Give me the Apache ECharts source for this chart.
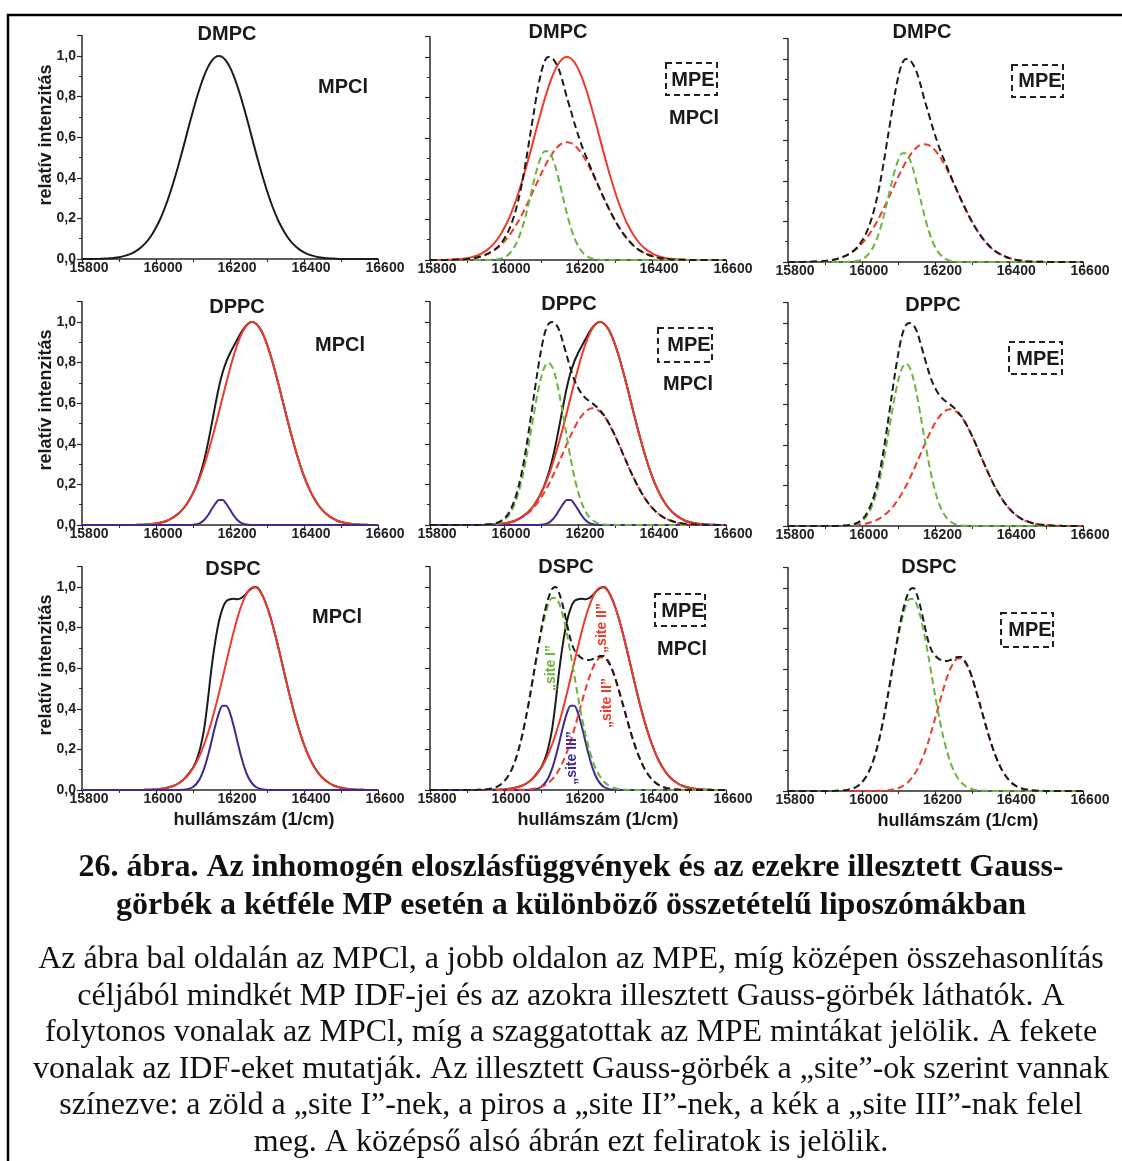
<!DOCTYPE html>
<html>
<head>
<meta charset="utf-8">
<script src="https://cdn.jsdelivr.net/npm/echarts@6/dist/echarts.min.js"></script>
<style>
html,body{margin:0;padding:0;background:#fff;}
#chart{width:1122px;height:1161px;}
</style>
</head>
<body>
<div id="chart"></div>
<script>
// wavenumber grid (1/cm)
const xs = [15800,15810,15820,15830,15840,15850,15860,15870,15880,15890,
15900,15910,15920,15930,15940,15950,15960,15970,15980,15990,
16000,16010,16020,16030,16040,16050,16060,16070,16080,16090,
16100,16110,16120,16130,16140,16150,16160,16170,16180,16190,
16200,16210,16220,16230,16240,16250,16260,16270,16280,16290,
16300,16310,16320,16330,16340,16350,16360,16370,16380,16390,
16400,16410,16420,16430,16440,16450,16460,16470,16480,16490,
16500,16510,16520,16530,16540,16550,16560,16570,16580,16590,
16600];

const xTicks = [15800, 16000, 16200, 16400, 16600];
const yTicks = [0, 0.2, 0.4, 0.6, 0.8, 1.0];

// DMPC – MPCl (IDF = single Gauss)
const dmpcMPCl = [0,0,0,0,0, 0.001,0.002,0.003,0.004,0.006,
0.009,0.013,0.018,0.024,0.033, 0.044,0.058,0.076,0.097,0.123,
0.155,0.191,0.234,0.282,0.336, 0.395,0.458,0.524,0.593,0.662,
0.729,0.793,0.851,0.902,0.944, 0.975,0.994,1.000,0.994,0.975,
0.944,0.902,0.851,0.793,0.729, 0.662,0.593,0.524,0.458,0.395,
0.336,0.282,0.234,0.191,0.155, 0.123,0.097,0.076,0.058,0.044,
0.033,0.024,0.018,0.013,0.009, 0.006,0.004,0.003,0.002,0.001,
0,0,0,0,0, 0,0,0,0,0,0];
// DMPC – MPE
const dmpcMPEsite1 = [0,0,0,0,0, 0,0,0,0,0, 0,0,0,0,0,
0,0,0.001,0.003,0.006, 0.013,0.024,0.042,0.070,0.110,
0.163,0.229,0.304,0.382,0.453, 0.507,0.536,0.536,0.507,0.453,
0.382,0.304,0.229,0.163,0.110, 0.070,0.042,0.024,0.013,0.006,
0.003,0.001,0,0,0,
0,0,0,0,0, 0,0,0,0,0, 0,0,0,0,0, 0,0,0,0,0, 0,0,0,0,0, 0,0,0,0,0,0];
const dmpcMPEsite2 = [0,0,0,0,0, 0.001,0.001,0.002,0.002,0.003,
0.005,0.008,0.010,0.014,0.019, 0.026,0.034,0.044,0.056,0.071,
0.090,0.111,0.136,0.164,0.195, 0.229,0.266,0.304,0.344,0.384,
0.423,0.460,0.494,0.523,0.548, 0.566,0.577,0.580,0.577,0.566,
0.548,0.523,0.494,0.460,0.423, 0.384,0.344,0.304,0.266,0.229,
0.195,0.164,0.136,0.111,0.090, 0.071,0.056,0.044,0.034,0.026,
0.019,0.014,0.010,0.008,0.005, 0.003,0.002,0.002,0.001,0.001,
0,0,0,0,0, 0,0,0,0,0,0];
const dmpcMPE = [0,0,0,0,0, 0.001,0.001,0.002,0.002,0.003,
0.005,0.008,0.010,0.014,0.019, 0.026,0.034,0.045,0.059,0.077,
0.103,0.135,0.178,0.234,0.305, 0.392,0.495,0.608,0.720,0.830,
0.920,0.980,1.000,0.995,0.970, 0.930,0.870,0.800,0.740,0.676,
0.618,0.565,0.518,0.473,0.429, 0.387,0.345,0.304,0.266,0.229,
0.195,0.164,0.136,0.111,0.090, 0.071,0.056,0.044,0.034,0.026,
0.019,0.014,0.010,0.008,0.005, 0.003,0.002,0.002,0.001,0.001,
0,0,0,0,0, 0,0,0,0,0,0];

// DPPC – MPCl
const dppcMPCl = [0,0,0,0,0, 0,0,0,0,0, 0,0,0,0,0,
0.001,0.001,0.002,0.003,0.005, 0.007,0.011,0.015,0.021,0.030,
0.041,0.055,0.073,0.095,0.123, 0.157,0.199,0.252,0.318,0.399,
0.492,0.588,0.679,0.751,0.805, 0.846,0.881,0.915,0.948,0.975,
0.994,1.000,0.993,0.971,0.937, 0.890,0.834,0.770,0.701,0.628,
0.556,0.484,0.416,0.352,0.293, 0.241,0.195,0.156,0.123,0.095,
0.073,0.055,0.041,0.030,0.021, 0.015,0.011,0.007,0.005,0.003,
0.002,0.001,0.001,0,0,0];
const dppcMPClsite2 = [0,0,0,0,0, 0,0,0,0,0, 0,0,0,0,0,
0.001,0.001,0.002,0.003,0.005, 0.007,0.011,0.015,0.021,0.030,
0.041,0.055,0.073,0.095,0.123, 0.156,0.195,0.241,0.293,0.352,
0.416,0.484,0.556,0.628,0.701, 0.770,0.834,0.890,0.937,0.971,
0.993,1.000,0.993,0.971,0.937, 0.890,0.834,0.770,0.701,0.628,
0.556,0.484,0.416,0.352,0.293, 0.241,0.195,0.156,0.123,0.095,
0.073,0.055,0.041,0.030,0.021, 0.015,0.011,0.007,0.005,0.003,
0.002,0.001,0.001,0,0,0];
const dppcMPClsite3 = [0,0,0,0,0, 0,0,0,0,0, 0,0,0,0,0, 0,0,0,0,0, 0,0,0,0,0, 0,0,0,0,0,
0.001,0.004,0.011,0.025,0.047, 0.076,0.104,0.123,0.123,0.104,
0.076,0.047,0.025,0.011,0.004, 0.001,0,0,0,0,
0,0,0,0,0, 0,0,0,0,0, 0,0,0,0,0, 0,0,0,0,0, 0,0,0,0,0, 0,0,0,0,0,0];
// DPPC – MPE
const dppcMPEsite1 = [0,0,0,0,0, 0,0,0,0,0, 0,0,0,0,0,
0.001,0.001,0.003,0.006,0.012, 0.023,0.040,0.068,0.108,0.165,
0.238,0.329,0.432,0.539,0.641, 0.725,0.780,0.800,0.780,0.725,
0.641,0.539,0.432,0.329,0.238, 0.165,0.108,0.068,0.040,0.023,
0.012,0.006,0.003,0.001,0.001,
0,0,0,0,0, 0,0,0,0,0, 0,0,0,0,0, 0,0,0,0,0, 0,0,0,0,0, 0,0,0,0,0,0];
const dppcMPEsite2 = [0,0,0,0,0, 0,0,0,0,0, 0,0,0,0,0.001,
0.001,0.002,0.003,0.004,0.006, 0.008,0.011,0.016,0.022,0.029,
0.039,0.052,0.067,0.086,0.108, 0.134,0.164,0.197,0.234,0.273,
0.315,0.357,0.400,0.440,0.477, 0.511,0.538,0.558,0.571,0.575,
0.571,0.558,0.538,0.511,0.477, 0.440,0.400,0.357,0.315,0.273,
0.234,0.197,0.164,0.134,0.108, 0.086,0.067,0.052,0.039,0.029,
0.022,0.016,0.011,0.008,0.006, 0.004,0.003,0.002,0.001,0.001,
0,0,0,0,0,0];
const dppcMPE = [0,0,0,0,0, 0,0,0,0,0, 0,0,0,0,0.001,
0.002,0.003,0.006,0.010,0.018, 0.031,0.051,0.084,0.130,0.194,
0.277,0.381,0.499,0.625,0.749, 0.859,0.944,0.990,1.000,0.990,
0.956,0.896,0.832,0.769,0.715, 0.676,0.646,0.626,0.611,0.598,
0.583,0.564,0.541,0.512,0.478, 0.440,0.400,0.357,0.315,0.273,
0.234,0.197,0.164,0.134,0.108, 0.086,0.067,0.052,0.039,0.029,
0.022,0.016,0.011,0.008,0.006, 0.004,0.003,0.002,0.001,0.001,
0,0,0,0,0,0];

// DSPC – MPCl
const dspcMPCl = [0,0,0,0,0, 0,0,0,0,0, 0,0,0,0,0, 0,0,
0.001,0.001,0.002, 0.003,0.005,0.007,0.011,0.016,
0.022,0.032,0.044,0.062,0.085, 0.110,0.150,0.210,0.300,0.440,
0.600,0.730,0.830,0.895,0.930, 0.940,0.942,0.940,0.945,0.960,
0.980,0.995,1.000,0.985,0.950, 0.904,0.847,0.780,0.707,0.630,
0.552,0.476,0.404,0.337,0.277, 0.224,0.178,0.139,0.107,0.081,
0.060,0.044,0.032,0.022,0.016, 0.011,0.007,0.005,0.003,0.002,
0.001,0.001,0,0,0,0];
const dspcMPClsite2 = [0,0,0,0,0, 0,0,0,0,0, 0,0,0,0,0, 0,0,
0.001,0.001,0.002, 0.003,0.005,0.007,0.011,0.016,
0.022,0.032,0.044,0.060,0.081, 0.107,0.139,0.178,0.224,0.277,
0.337,0.404,0.476,0.552,0.630, 0.707,0.780,0.847,0.904,0.950,
0.982,0.998,0.998,0.982,0.950, 0.904,0.847,0.780,0.707,0.630,
0.552,0.476,0.404,0.337,0.277, 0.224,0.178,0.139,0.107,0.081,
0.060,0.044,0.032,0.022,0.016, 0.011,0.007,0.005,0.003,0.002,
0.001,0.001,0,0,0,0];
const dspcMPClsite3 = [0,0,0,0,0, 0,0,0,0,0, 0,0,0,0,0, 0,0,0,0,0, 0,0,0,0,0, 0,0,
0.001,0.003,0.007, 0.015,0.032,0.060,0.105,0.166,
0.239,0.315,0.379,0.415,0.415, 0.379,0.315,0.239,0.166,0.105,
0.060,0.032,0.015,0.007,0.003, 0.001,
0,0,0,0, 0,0,0,0,0, 0,0,0,0,0, 0,0,0,0,0, 0,0,0,0,0, 0,0,0,0,0,0];
// DSPC – MPE
const dspcMPEsite1 = [0,0,0,0,0, 0,0,0,0,0, 0,0,0,0.001,0.001,
0.003,0.005,0.009,0.015,0.026, 0.042,0.065,0.098,0.143,0.202,
0.275,0.362,0.460,0.565,0.671, 0.770,0.853,0.914,0.946,0.946,
0.914,0.853,0.770,0.671,0.565, 0.460,0.362,0.275,0.202,0.143,
0.098,0.065,0.042,0.026,0.015, 0.009,0.005,0.003,0.001,0.001,
0,0,0,0,0, 0,0,0,0,0, 0,0,0,0,0, 0,0,0,0,0, 0,0,0,0,0,0];
const dspcMPEsite2 = [0,0,0,0,0, 0,0,0,0,0, 0,0,0,0,0, 0,0,0,0,0, 0,0,0,0,
0.001,0.001,0.002,0.003,0.006,0.009,
0.015,0.023,0.035,0.052,0.075, 0.104,0.142,0.187,0.240,0.300,
0.364,0.430,0.494,0.553,0.601, 0.635,0.653,0.653,0.635,0.601,
0.553,0.494,0.430,0.364,0.300, 0.240,0.187,0.142,0.104,0.075,
0.052,0.035,0.023,0.015,0.009, 0.006,0.003,0.002,0.001,0.001,
0,0,0,0,0, 0,0,0,0,0,0];
const dspcMPE = [0,0,0,0,0, 0,0,0,0,0, 0,0,0,0.001,0.001,
0.003,0.005,0.009,0.015,0.026, 0.042,0.065,0.098,0.143,0.203,
0.276,0.364,0.463,0.571,0.680, 0.785,0.876,0.945,0.990,1.000,
0.965,0.900,0.820,0.740,0.690, 0.665,0.650,0.642,0.640,0.645,
0.652,0.660,0.660,0.640,0.605, 0.555,0.494,0.430,0.364,0.300,
0.240,0.187,0.142,0.104,0.075, 0.052,0.035,0.023,0.015,0.009,
0.006,0.003,0.002,0.001,0.001,
0,0,0,0,0, 0,0,0,0,0,0];

const lipids = ['DMPC', 'DPPC', 'DSPC'];
const captionBold = ['26. ábra. Az inhomogén eloszlásfüggvények és az ezekre illesztett Gauss-',
  'görbék a kétféle MP esetén a különböző összetételű liposzómákban'];
const captionBody = ['Az ábra bal oldalán az MPCl, a jobb oldalon az MPE, míg középen összehasonlítás',
  'céljából mindkét MP IDF-jei és az azokra illesztett Gauss-görbék láthatók. A',
  'folytonos vonalak az MPCl, míg a szaggatottak az MPE mintákat jelölik. A fekete',
  'vonalak az IDF-eket mutatják. Az illesztett Gauss-görbék a \u201Esite\u201D-ok szerint vannak',
  'színezve: a zöld a \u201Esite I\u201D-nek, a piros a \u201Esite II\u201D-nek, a kék a \u201Esite III\u201D-nak felel',
  'meg. A középső alsó ábrán ezt feliratok is jelölik.'];

// ---------- layout / styles ----------
const SANS = '"Liberation Sans", Arial, sans-serif';
const SERIF = '"Liberation Serif", "Times New Roman", serif';
const BLACK = '#1c1c1c', RED = '#ec3a2b', GREEN = '#6db33f', BLUE = '#3e2c8c', AX = '#2a2a2a';
const cols = [{left: 82, width: 296}, {left: 430, width: 296}, {left: 788, width: 295}];
const zeroY = [[259, 260, 262], [525, 525, 526], [790, 790, 791]];
const UNIT = 203;

const grids = [], xAxes = [], yAxes = [], series = [];
for (let r = 0; r < 3; r++) {
  for (let c = 0; c < 3; c++) {
    grids.push({left: cols[c].left, width: cols[c].width, top: zeroY[r][c] - 1.1 * UNIT, height: 1.1 * UNIT, containLabel: false});
    const gi = grids.length - 1;
    xAxes.push({
      type: 'value', gridIndex: gi, min: xTicks[0], max: xTicks[xTicks.length - 1], interval: xTicks[1] - xTicks[0],
      axisLine: {show: true, lineStyle: {color: AX, width: 1.5}},
      axisTick: {show: true, inside: false, length: 5, lineStyle: {color: AX, width: 1.2}},
      minorTick: {show: true, splitNumber: 2, length: 3, lineStyle: {color: AX, width: 1}},
      splitLine: {show: false},
      axisLabel: {show: true, margin: 2, fontSize: 14, fontWeight: 'bold', color: '#222', fontFamily: SANS,
        padding: [0, 0, 0, 14], formatter: v => String(Math.round(v))}
    });
    yAxes.push({
      type: 'value', gridIndex: gi, min: yTicks[0], max: 1.1, interval: yTicks[1] - yTicks[0],
      axisLine: {show: true, lineStyle: {color: AX, width: 1.5}},
      axisTick: {show: true, inside: false, length: 5, lineStyle: {color: AX, width: 1.2}},
      minorTick: {show: true, splitNumber: 2, length: 3, lineStyle: {color: AX, width: 1}},
      splitLine: {show: false},
      axisLabel: {show: c === 0, margin: 6, fontSize: 14, fontWeight: 'bold', color: '#222', fontFamily: SANS,
        formatter: v => (yTicks.some(t => Math.abs(t - v) < 1e-6) ? v.toFixed(1).replace('.', ',') : '')}
    });
  }
}

function addLine(panel, arr, color, dashed) {
  series.push({
    type: 'line', xAxisIndex: panel, yAxisIndex: panel,
    data: xs.map((x, i) => [x, arr[i]]),
    showSymbol: false, smooth: 0.3, silent: true,
    lineStyle: {color: color, width: 2, type: dashed ? [7, 4] : 'solid'},
    z: dashed ? 3 : 2
  });
}
// row 1: DMPC
addLine(0, dmpcMPCl, BLACK, false);
addLine(1, dmpcMPCl, RED, false);
addLine(1, dmpcMPEsite2, RED, true);
addLine(1, dmpcMPEsite1, GREEN, true);
addLine(1, dmpcMPE, BLACK, true);
addLine(2, dmpcMPEsite2, RED, true);
addLine(2, dmpcMPEsite1, GREEN, true);
addLine(2, dmpcMPE, BLACK, true);
// row 2: DPPC
addLine(3, dppcMPCl, BLACK, false);
addLine(3, dppcMPClsite2, RED, false);
addLine(3, dppcMPClsite3, BLUE, false);
addLine(4, dppcMPCl, BLACK, false);
addLine(4, dppcMPClsite2, RED, false);
addLine(4, dppcMPClsite3, BLUE, false);
addLine(4, dppcMPEsite2, RED, true);
addLine(4, dppcMPEsite1, GREEN, true);
addLine(4, dppcMPE, BLACK, true);
addLine(5, dppcMPEsite2, RED, true);
addLine(5, dppcMPEsite1, GREEN, true);
addLine(5, dppcMPE, BLACK, true);
// row 3: DSPC
addLine(6, dspcMPCl, BLACK, false);
addLine(6, dspcMPClsite2, RED, false);
addLine(6, dspcMPClsite3, BLUE, false);
addLine(7, dspcMPCl, BLACK, false);
addLine(7, dspcMPClsite2, RED, false);
addLine(7, dspcMPClsite3, BLUE, false);
addLine(7, dspcMPEsite2, RED, true);
addLine(7, dspcMPEsite1, GREEN, true);
addLine(7, dspcMPE, BLACK, true);
addLine(8, dspcMPEsite2, RED, true);
addLine(8, dspcMPEsite1, GREEN, true);
addLine(8, dspcMPE, BLACK, true);

// ---------- texts ----------
function txt(x, y, text, opt) {
  opt = opt || {};
  return {
    type: 'text', x: x, y: y, rotation: opt.rot || 0, z: 10, silent: true,
    style: {
      text: text, fill: opt.color || '#1a1a1a',
      fontSize: opt.size || 20, fontWeight: opt.weight || 'bold', fontFamily: opt.family || SANS,
      align: 'center', verticalAlign: 'middle', textAlign: 'center', textVerticalAlign: 'middle'
    }
  };
}
function mpeBox(x, y, w, h) {
  return {type: 'rect', z: 10, silent: true, shape: {x: x, y: y, width: w, height: h},
    style: {fill: 'none', stroke: '#222', lineWidth: 2, lineDash: [6, 4]}};
}
const g = [];
// frame
g.push({type: 'line', z: 10, silent: true, shape: {x1: 7, y1: 15, x2: 1122, y2: 15}, style: {stroke: '#000', lineWidth: 2.5}});
g.push({type: 'line', z: 10, silent: true, shape: {x1: 8, y1: 14, x2: 8, y2: 1161}, style: {stroke: '#000', lineWidth: 2.5}});
// panel titles
const titlePos = [[[227, 34], [558, 32], [922, 32]], [[237, 307], [569, 304], [933, 305]], [[233, 569], [566, 567], [929, 567]]];
for (let r = 0; r < 3; r++) for (let c = 0; c < 3; c++) g.push(txt(titlePos[r][c][0], titlePos[r][c][1], lipids[r]));
// MPCl labels
[[343, 87], [694, 118], [340, 345], [688, 384], [337, 617], [682, 649]].forEach(p => g.push(txt(p[0], p[1], 'MPCl')));
// MPE boxed labels
[[666, 63, 51, 32, 693, 80], [1012, 65, 51, 32, 1040, 81], [658, 328, 54, 34, 689, 345],
 [1009, 342, 53, 32, 1038, 359], [655, 594, 50, 32, 683, 611], [1001, 613, 52, 34, 1030, 630]].forEach(b => {
  g.push(mpeBox(b[0], b[1], b[2], b[3]));
  g.push(txt(b[4], b[5], 'MPE'));
});
// axis names
[135, 400, 665].forEach(y => g.push(txt(46, y, 'relatív intenzitás', {rot: Math.PI / 2, size: 18})));
[[254, 820], [598, 820], [958, 821]].forEach(p => g.push(txt(p[0], p[1], 'hullámszám (1/cm)', {size: 18})));
// site labels (bottom middle panel)
g.push(txt(551, 668, '\u201Esite I\u201D', {rot: Math.PI / 2, size: 14, color: GREEN}));
g.push(txt(602, 628, '\u201Esite II\u201D', {rot: Math.PI / 2, size: 14, color: RED}));
g.push(txt(607, 703, '\u201Esite II\u201D', {rot: Math.PI / 2, size: 14, color: RED}));
g.push(txt(572, 758, '\u201Esite III\u201D', {rot: Math.PI / 2, size: 14, color: BLUE}));
// caption
[868, 906].forEach((y, i) => g.push(txt(571, y, captionBold[i], {size: 32, weight: 'bold', family: SERIF, color: '#111'})));
[960, 997, 1033, 1070, 1106, 1143].forEach((y, i) => g.push(txt(571, y, captionBody[i], {size: 32, weight: 'normal', family: SERIF, color: '#111'})));

const chart = echarts.init(document.getElementById('chart'), null, {renderer: 'canvas'});
chart.setOption({
  animation: false,
  backgroundColor: '#ffffff',
  grid: grids, xAxis: xAxes, yAxis: yAxes, series: series,
  graphic: {elements: g}
});
</script>
</body>
</html>
